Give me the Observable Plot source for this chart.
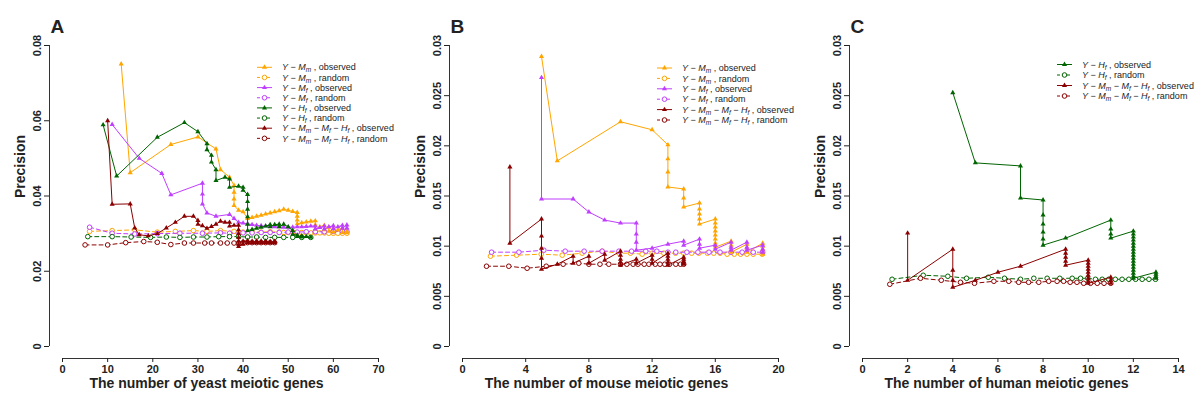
<!DOCTYPE html>
<html><head><meta charset="utf-8">
<script src="https://cdn.jsdelivr.net/npm/d3@7"></script>
<script src="https://cdn.jsdelivr.net/npm/@observablehq/plot@0.6"></script>
<style>
body{margin:0;background:#fff;}
#wrap{display:flex;width:1200px;height:400px;}
</style></head><body><div id="wrap"></div>
<script>
const FONT = "'Liberation Sans', Arial, Helvetica, sans-serif";
const COLORS = {Mm: "#FFA500", Mf: "#BF3EFF", Hf: "#006400", All: "#8B0000"};

// ---------- Panel A (yeast) ----------
const A_xTicks = [0, 10, 20, 30, 40, 50, 60, 70];
const A_yTicks = [0, 0.02, 0.04, 0.06, 0.08];
const A_Mm_obs = [[13,0.0751],[15,0.0462],[24,0.0537],[30,0.0557],[34,0.0525],[35,0.0470],[37,0.0450],[38,0.0428],[38,0.0410],[38,0.0392],[38,0.0375],[39,0.0362],[40,0.0358],[41,0.0340],[42,0.0343],[43,0.0346],[44,0.0349],[45,0.0352],[46,0.0355],[47,0.0358],[48,0.0361],[49,0.0365],[50,0.0362],[51,0.0359],[52,0.0356],[52,0.0346],[52,0.0336],[52,0.0326],[53,0.0329],[54,0.0331],[55,0.0333],[56,0.0334],[56,0.0323],[56,0.0312],[57,0.0318],[58,0.0322],[58,0.0310],[59,0.0317],[59,0.0306],[60,0.0313],[60,0.0304],[61,0.0310],[62,0.0314],[62,0.0303],[63,0.0306],[63,0.0302]];
const A_Mm_rand = [[6,0.0306],[11,0.0308],[16,0.0310],[21,0.0304],[25,0.0306],[29,0.0308],[32,0.0306],[35,0.0308],[38,0.0306],[40,0.0304],[42,0.0305],[44,0.0304],[46,0.0305],[48,0.0304],[49,0.0303],[50,0.0303],[51,0.0304],[52,0.0303],[53,0.0303],[54,0.0302],[55,0.0302],[56,0.0302],[57,0.0302],[58,0.0302],[59,0.0301],[60,0.0301],[61,0.0301],[62,0.0301],[63,0.0301]];
const A_Mf_obs = [[11,0.0590],[17,0.0500],[22,0.0460],[24,0.0403],[31,0.0434],[31,0.0405],[31,0.0379],[32,0.0355],[34,0.0346],[37,0.0351],[38,0.0340],[39,0.0330],[40,0.0328],[41,0.0326],[42,0.0324],[43,0.0322],[44,0.0321],[45,0.0320],[46,0.0319],[47,0.0318],[48,0.0318],[49,0.0317],[50,0.0317],[51,0.0317],[52,0.0318],[53,0.0318],[54,0.0319],[55,0.0320],[56,0.0320],[56,0.0312],[57,0.0316],[58,0.0320],[58,0.0312],[59,0.0318],[60,0.0321],[60,0.0313],[61,0.0318],[62,0.0322],[62,0.0314],[63,0.0323],[63,0.0315]];
const A_Mf_rand = [[6,0.0317],[11,0.0301],[16,0.0299],[21,0.0300],[26,0.0301],[31,0.0301],[35,0.0302],[37,0.0301],[40,0.0302],[42,0.0302],[44,0.0303],[46,0.0303],[48,0.0303],[50,0.0304],[52,0.0304],[54,0.0305],[56,0.0305],[58,0.0305],[60,0.0306],[62,0.0306],[63,0.0306]];
const A_Hf_obs = [[9,0.0589],[12,0.0453],[21,0.0556],[27,0.0595],[30,0.0571],[32,0.0539],[32,0.0523],[33,0.0508],[33,0.0490],[34,0.0470],[34,0.0441],[36,0.0450],[37,0.0445],[37,0.0423],[39,0.0426],[40,0.0423],[40,0.0415],[41,0.0404],[41,0.0385],[41,0.0365],[41,0.0345],[41,0.0325],[41,0.0308],[42,0.0311],[43,0.0314],[44,0.0317],[45,0.0320],[46,0.0324],[46,0.0318],[47,0.0324],[48,0.0325],[48,0.0318],[49,0.0325],[50,0.0318],[51,0.0308],[51,0.0298],[52,0.0296],[52,0.0292],[53,0.0294],[53,0.0291],[54,0.0292],[55,0.0290]];
const A_Hf_rand = [[5.6,0.0292],[11,0.0292],[15.2,0.0291],[19.5,0.0290],[23,0.0291],[26,0.0290],[29,0.0291],[32,0.0291],[34.6,0.0292],[37,0.0292],[39,0.0292],[41,0.0291],[43,0.0291],[45,0.0290],[47,0.0290],[49,0.0290],[51,0.0290],[53,0.0290],[55,0.0290]];
const A_All_obs = [[10,0.0600],[11,0.0378],[15,0.0379],[16,0.0315],[17,0.0297],[19,0.0294],[21,0.0300],[23,0.0315],[25,0.0330],[27,0.0346],[29,0.0346],[30,0.0335],[30,0.0325],[31,0.0321],[32,0.0314],[33,0.0319],[34,0.0325],[35,0.0333],[36,0.0330],[37,0.0330],[37,0.0320],[38,0.0322],[39,0.0322],[39,0.0310],[39,0.0300],[39,0.0290],[39,0.0280],[39,0.0272],[39,0.0266],[40,0.0272],[40,0.0280],[41,0.0281],[41,0.0276],[42,0.0280],[42,0.0276],[43,0.0280],[43,0.0276],[44,0.0280],[44,0.0276],[45,0.0280],[45,0.0276],[46,0.0279],[46,0.0276],[47,0.0279],[47,0.0276]];
const A_All_rand = [[5,0.0270],[10,0.0270],[14,0.0276],[18,0.0279],[21,0.0277],[24,0.0271],[27,0.0275],[29,0.0275],[31.5,0.0275],[33,0.0275],[35,0.0275],[36.5,0.0275],[38,0.0275],[39,0.0275],[40,0.0276],[41,0.0276],[42,0.0276],[43,0.0276],[44,0.0276],[45,0.0276],[46,0.0276],[47,0.0276]];

// ---------- Panel B (mouse) ----------
const B_xTicks = [0, 4, 8, 12, 16, 20];
const B_yTicks = [0, 0.005, 0.01, 0.015, 0.02, 0.025, 0.03];
const B_Mm_obs = [[5,0.0289],[6,0.0185],[10,0.0224],[12,0.0216],[13,0.0201],[13,0.0187],[13,0.0174],[13,0.0159],[14,0.0157],[14,0.0148],[14,0.0139],[15,0.0143],[15,0.0137],[15,0.0132],[15,0.0127],[15,0.0122],[16,0.0127],[16,0.0123],[16,0.0119],[16,0.0115],[16,0.0111],[16,0.0107],[16,0.0103],[16,0.0099],[17,0.0105],[17,0.0101],[17,0.0097],[17,0.0094],[18,0.0102],[18,0.0098],[18,0.0094],[19,0.0103],[19,0.0100],[19,0.0097],[19,0.0094],[19,0.0092]];
const B_Mm_rand = [[1.77,0.0090],[3.42,0.0091],[4.98,0.0092],[6.31,0.0091],[7.57,0.0093],[8.84,0.0095],[9.9,0.0093],[10.63,0.0093],[11.37,0.0092],[12.0,0.0093],[12.74,0.0093],[13.48,0.0093],[14.0,0.0093],[14.5,0.0093],[14.96,0.0093],[15.5,0.0093],[15.9,0.0093],[16.3,0.0093],[16.75,0.0092],[17.2,0.0092],[17.6,0.0092],[18.0,0.0092],[18.4,0.0092],[18.97,0.0092]];
const B_Mf_obs = [[5,0.0268],[5,0.0147],[7,0.0147],[8,0.0134],[9,0.0126],[10,0.0123],[11,0.0123],[11,0.0112],[11,0.0104],[11,0.0096],[12,0.0098],[13,0.0102],[14,0.0105],[14,0.0101],[15,0.0107],[15,0.0102],[15,0.0098],[16,0.0101],[16,0.0097],[17,0.0104],[17,0.0099],[17,0.0096],[18,0.0104],[18,0.0099],[18,0.0096],[19,0.0101],[19,0.0097],[19,0.0094]];
const B_Mf_rand = [[1.84,0.0094],[3.57,0.0094],[5.15,0.0096],[6.5,0.0095],[7.7,0.0095],[8.84,0.0095],[9.9,0.0095],[10.7,0.0095],[11.6,0.0095],[12.3,0.0095],[13.0,0.0094],[13.5,0.0094],[14.2,0.0094],[14.9,0.0094],[15.6,0.0094],[16.3,0.0094],[17.0,0.0094],[17.7,0.0094],[18.4,0.0094],[19.0,0.0094]];
const B_All_obs = [[3,0.0179],[3,0.0103],[5,0.0127],[5,0.0110],[5,0.0098],[5,0.0088],[5,0.0077],[6,0.0082],[7,0.0090],[7,0.0083],[8,0.0090],[8,0.0083],[9,0.0092],[9,0.0086],[10,0.0095],[10,0.0091],[10,0.0087],[10,0.0084],[10,0.0081],[11,0.0087],[11,0.0083],[12,0.0091],[12,0.0087],[12,0.0083],[13,0.0093],[13,0.0090],[13,0.0087],[13,0.0084],[13,0.0081],[14,0.0089],[14,0.0087],[14,0.0085],[14,0.0083],[14,0.0082]];
const B_All_rand = [[1.52,0.0080],[2.93,0.0080],[4.09,0.0078],[5.3,0.0080],[6.37,0.0082],[7.36,0.0083],[8.0,0.0082],[8.7,0.0082],[9.26,0.0082],[10.0,0.0082],[10.4,0.0082],[10.8,0.0082],[11.1,0.0082],[11.5,0.0082],[11.8,0.0082],[12.2,0.0082],[12.5,0.0082],[12.8,0.0082],[13.1,0.0082],[13.5,0.0082],[13.8,0.0082],[14.0,0.0082]];

// ---------- Panel C (human) ----------
const C_xTicks = [0, 2, 4, 6, 8, 10, 12, 14];
const C_yTicks = [0, 0.005, 0.01, 0.015, 0.02, 0.025, 0.03];
const C_Hf_obs = [[4,0.0253],[5,0.0183],[7,0.0180],[7,0.0148],[8,0.0146],[8,0.0131],[8,0.0122],[8,0.0114],[8,0.0107],[8,0.0101],[9,0.0108],[11,0.0126],[11,0.0117],[11,0.0112],[11,0.0108],[12,0.0115],[12,0.0112],[12,0.0109],[12,0.0106],[12,0.0103],[12,0.0100],[12,0.0097],[12,0.0094],[12,0.0091],[12,0.0088],[12,0.0085],[12,0.0082],[12,0.0079],[12,0.0076],[12,0.0073],[12,0.0070],[12,0.0068],[13,0.0074],[13,0.0072],[13,0.0070],[13,0.0068]];
const C_Hf_rand = [[1.31,0.0067],[2.69,0.0071],[3.78,0.0070],[4.61,0.0068],[5.57,0.0069],[6.29,0.0068],[7.0,0.0067],[7.59,0.0068],[8.18,0.0068],[8.74,0.0068],[9.29,0.0068],[9.66,0.0068],[9.98,0.0068],[10.32,0.0067],[10.62,0.0067],[10.91,0.0067],[11.2,0.0067],[11.5,0.0067],[11.8,0.0067],[12.1,0.0067],[12.39,0.0067],[12.69,0.0067],[12.98,0.0067]];
const C_All_obs = [[2,0.0113],[2,0.0066],[4,0.0097],[4,0.0076],[4,0.0066],[4,0.0059],[5,0.0066],[6,0.0074],[7,0.0080],[9,0.0097],[9,0.0093],[9,0.0089],[9,0.0085],[9,0.0081],[10,0.0086],[10,0.0083],[10,0.0080],[10,0.0077],[10,0.0074],[10,0.0071],[10,0.0068],[10,0.0065],[10,0.0063],[11,0.0069],[11,0.0066],[11,0.0063]];
const C_All_rand = [[1.21,0.0062],[2.57,0.0068],[3.49,0.0066],[4.34,0.0064],[4.96,0.0063],[5.82,0.0065],[6.48,0.0065],[6.92,0.0064],[7.36,0.0064],[7.81,0.0064],[8.25,0.0065],[8.62,0.0065],[8.91,0.0065],[9.2,0.0064],[9.5,0.0064],[9.8,0.0063],[10.1,0.0063],[10.4,0.0063],[10.7,0.0063],[11.0,0.0063]];

const LABELS = {
  Mm: [["Y","i"],[" \u2212 ",""],["M","i"],["m","s"]],
  Mf: [["Y","i"],[" \u2212 ",""],["M","i"],["f","s"]],
  Hf: [["Y","i"],[" \u2212 ",""],["H","i"],["f","s"]],
  All: [["Y","i"],[" \u2212 ",""],["M","i"],["m","s"],[" \u2212 ",""],["M","i"],["f","s"],[" \u2212 ",""],["H","i"],["f","s"]]
};

const fmt = d => d === 0 ? "0" : String(d);

function panel(cfg) {
  const marks = [];
  const xT = cfg.xTicks, yT = cfg.yTicks;
  marks.push(Plot.ruleX([xT[0]], {x: d => d, y1: yT[0], y2: yT[yT.length - 1], dx: -13, stroke: "#333"}));
  marks.push(Plot.ruleY([yT[0]], {y: d => d, x1: xT[0], x2: xT[xT.length - 1], dy: 12, stroke: "#333"}));
  marks.push(Plot.axisY({ticks: yT, tickFormat: fmt, tickSize: 5, tickRotate: -90, dx: -13, label: null, fontWeight: "bold", fontSize: 11}));
  marks.push(Plot.axisX({ticks: xT, tickFormat: fmt, tickSize: 4, tickPadding: 3, dy: 12, label: null, fontWeight: "bold", fontSize: 11}));
  for (const s of cfg.series) {
    const c = COLORS[s.key];
    marks.push(Plot.line(s.rand, {x: d => d[0], y: d => d[1], stroke: c, strokeWidth: 1, strokeDasharray: "4,3"}));
    marks.push(Plot.dot(s.rand, {x: d => d[0], y: d => d[1], r: 2.3, stroke: c, fill: "white", strokeWidth: 1}));
  }
  for (const s of cfg.series) {
    const c = COLORS[s.key];
    marks.push(Plot.line(s.obs, {x: d => d[0], y: d => d[1], stroke: c, strokeWidth: 1}));
    marks.push(Plot.dot(s.obs, {x: d => d[0], y: d => d[1], symbol: "triangle", r: 1.9, fill: c}));
  }
  marks.push(Plot.text([cfg.xLabel], {frameAnchor: "bottom", dx: -14, dy: 37, fontWeight: "bold", fontSize: 14, lineAnchor: "middle"}));
  marks.push(Plot.text(["Precision"], {frameAnchor: "left", dx: -42, dy: 2, rotate: -90, fontWeight: "bold", fontSize: 14}));
  marks.push(Plot.text([cfg.letter], {frameAnchor: "top-left", dx: -12, dy: -13, textAnchor: "start", lineAnchor: "bottom", fontWeight: "bold", fontSize: 19}));

  const svg = Plot.plot({
    width: 400, height: 400,
    marginLeft: 62, marginRight: 22, marginTop: 45, marginBottom: 54,
    x: {domain: [xT[0], xT[xT.length - 1]]},
    y: {domain: [yT[0], yT[yT.length - 1]]},
    style: {fontFamily: FONT, background: "white", color: "#222", overflow: "visible"},
    marks
  });

  // legend
  const g = d3.select(svg).append("g").attr("font-family", FONT).attr("font-size", 9)
    .attr("fill", "#222").attr("text-anchor", "start");
  const x0 = 257;
  cfg.legend.forEach((it, i) => {
    const y = cfg.legendTop + i * cfg.legendStep;
    const c = COLORS[it.key];
    g.append("line").attr("x1", x0).attr("x2", x0 + 15).attr("y1", y).attr("y2", y)
      .attr("stroke", c).attr("stroke-width", 1).attr("stroke-dasharray", it.random ? "3,2" : null);
    if (it.random) {
      g.append("circle").attr("cx", x0 + 7.5).attr("cy", y).attr("r", 2.3).attr("fill", "white").attr("stroke", c);
    } else {
      g.append("path").attr("d", d3.symbol(d3.symbolTriangle, 11.3)()).attr("transform", `translate(${x0 + 7.5},${y})`).attr("fill", c);
    }
    const t = g.append("text").attr("x", x0 + 25).attr("y", y).attr("dy", "0.35em").attr("text-anchor", "start");
    let shift = 0;
    for (const [txt, st] of LABELS[it.key]) {
      const ts = t.append("tspan").text(txt);
      if (st === "i") { ts.attr("font-style", "italic"); if (shift) { ts.attr("dy", -shift); shift = 0; } }
      else if (st === "s") { ts.attr("font-style", "italic").attr("font-size", 6.5).attr("dy", 2); shift = 2; }
      else { if (shift) { ts.attr("dy", -shift); shift = 0; } }
    }
    const ts = t.append("tspan").text(it.random ? " , random" : " , observed");
    if (shift) ts.attr("dy", -shift);
  });
  return svg;
}

const wrap = document.getElementById("wrap");
wrap.appendChild(panel({
  letter: "A", xTicks: A_xTicks, yTicks: A_yTicks, xLabel: "The number of yeast meiotic genes",
  series: [
    {key: "Mm", obs: A_Mm_obs, rand: A_Mm_rand},
    {key: "Mf", obs: A_Mf_obs, rand: A_Mf_rand},
    {key: "Hf", obs: A_Hf_obs, rand: A_Hf_rand},
    {key: "All", obs: A_All_obs, rand: A_All_rand}
  ],
  legend: [{key:"Mm"},{key:"Mm",random:1},{key:"Mf"},{key:"Mf",random:1},{key:"Hf"},{key:"Hf",random:1},{key:"All"},{key:"All",random:1}],
  legendTop: 67.3, legendStep: 10.15
}));
wrap.appendChild(panel({
  letter: "B", xTicks: B_xTicks, yTicks: B_yTicks, xLabel: "The number of mouse meiotic genes",
  series: [
    {key: "Mm", obs: B_Mm_obs, rand: B_Mm_rand},
    {key: "Mf", obs: B_Mf_obs, rand: B_Mf_rand},
    {key: "All", obs: B_All_obs, rand: B_All_rand}
  ],
  legend: [{key:"Mm"},{key:"Mm",random:1},{key:"Mf"},{key:"Mf",random:1},{key:"All"},{key:"All",random:1}],
  legendTop: 68, legendStep: 10.4
}));
wrap.appendChild(panel({
  letter: "C", xTicks: C_xTicks, yTicks: C_yTicks, xLabel: "The number of human meiotic genes",
  series: [
    {key: "Hf", obs: C_Hf_obs, rand: C_Hf_rand},
    {key: "All", obs: C_All_obs, rand: C_All_rand}
  ],
  legend: [{key:"Hf"},{key:"Hf",random:1},{key:"All"},{key:"All",random:1}],
  legendTop: 64.5, legendStep: 10.5
}));
</script>
</body></html>
